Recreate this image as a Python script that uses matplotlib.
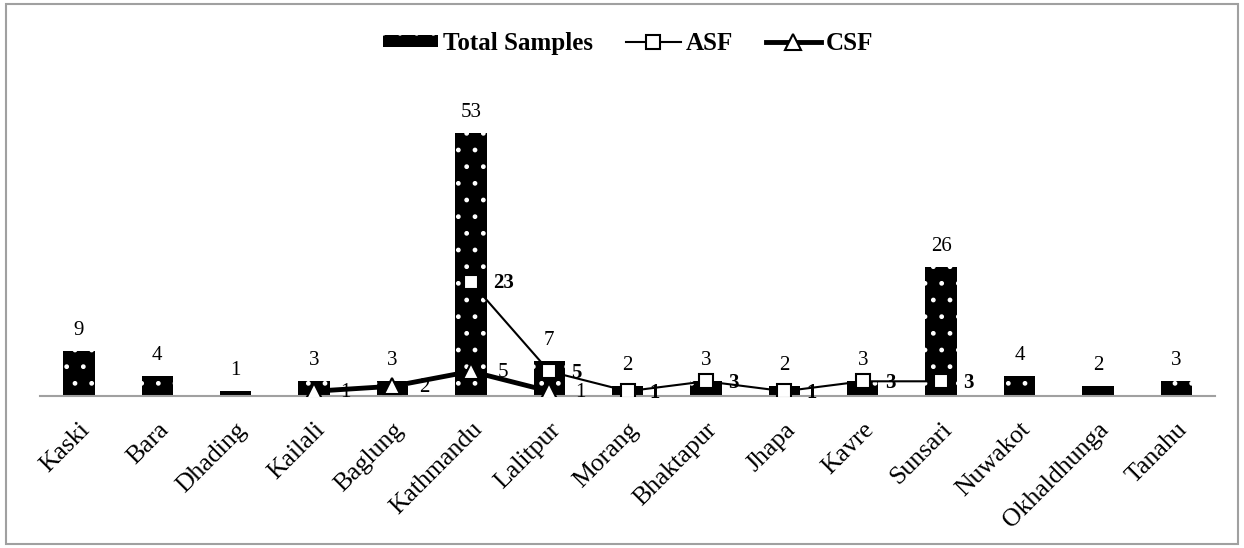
import numpy as np
import matplotlib
matplotlib.use("Agg")
from matplotlib import pyplot as plt
from matplotlib.patches import Rectangle

plt.rcParams['font.family'] = ['Liberation Serif', 'DejaVu Serif']
plt.rcParams['hatch.linewidth'] = 1.0

districts = ['Kaski', 'Bara', 'Dhading', 'Kailali', 'Baglung', 'Kathmandu', 'Lalitpur',
             'Morang', 'Bhaktapur', 'Jhapa', 'Kavre', 'Sunsari', 'Nuwakot',
             'Okhaldhunga', 'Tanahu']
total = [9, 4, 1, 3, 3, 53, 7, 2, 3, 2, 3, 26, 4, 2, 3]
asf = [None, None, None, None, None, 23, 5, 1, 3, 1, 3, 3, None, None, None]
csf = [None, None, None, 1, 2, 5, 1, None, None, None, None, None, None, None, None]

x = np.arange(len(districts))
asf_x = [i for i, v in enumerate(asf) if v is not None]
asf_y = [v for v in asf if v is not None]
csf_x = [i for i, v in enumerate(csf) if v is not None]
csf_y = [v for v in csf if v is not None]

fig = plt.figure(figsize=(12.44, 5.48), dpi=100)
ax = fig.add_axes([0.032, 0.277, 0.945, 0.544])

ax.bar(x, total, width=0.4, color='black', edgecolor='white', hatch='.',
       linewidth=0, label='Total Samples', zorder=2)
ax.plot(csf_x, csf_y, color='black', lw=3.5, marker='^', ms=12, mfc='white',
        mec='black', mew=1.5, label='CSF', zorder=3)
ax.plot(asf_x, asf_y, color='black', lw=1.5, marker='s', ms=10, mfc='white',
        mec='black', mew=1.5, label='ASF', zorder=4)

for xi, v in zip(x, total):
    ax.annotate(str(v), (xi, v), xytext=(0, 8), textcoords='offset points',
                ha='center', va='bottom', fontsize=15)
for xi, v in zip(asf_x, asf_y):
    ax.annotate(str(v), (xi, v), xytext=(16, -1), textcoords='offset points',
                ha='left', va='center', fontsize=15, fontweight='bold')
for xi, v in zip(csf_x, csf_y):
    ax.annotate(str(v), (xi, v), xytext=(19, -1), textcoords='offset points',
                ha='left', va='center', fontsize=15)

ax.set_xlim(-0.5, len(districts) - 0.5)
ax.set_ylim(0, 60)
ax.set_xticks(x)
ax.set_xticklabels(districts, rotation=45, ha='right', rotation_mode='anchor',
                   fontsize=18.5)
ax.tick_params(axis='x', length=0, pad=16)
ax.set_yticks([])
for s in ['top', 'right', 'left']:
    ax.spines[s].set_visible(False)
ax.spines['bottom'].set_color('#a0a0a0')
ax.spines['bottom'].set_linewidth(1.5)

h, l = ax.get_legend_handles_labels()
order = [l.index('Total Samples'), l.index('ASF'), l.index('CSF')]
ax.legend([h[i] for i in order], [l[i] for i in order], loc='center',
          bbox_to_anchor=(0.505, 0.921), bbox_transform=fig.transFigure,
          ncol=3, frameon=False, prop={'weight': 'bold', 'size': 18},
          handlelength=2.2, handleheight=0.4, columnspacing=1.3,
          handletextpad=0.2)

fig.add_artist(Rectangle((0.005, 0.008), 0.99, 0.984, transform=fig.transFigure,
                         fill=False, edgecolor='#a0a0a0', linewidth=1.5))

fig.savefig('out.png', dpi=100)
